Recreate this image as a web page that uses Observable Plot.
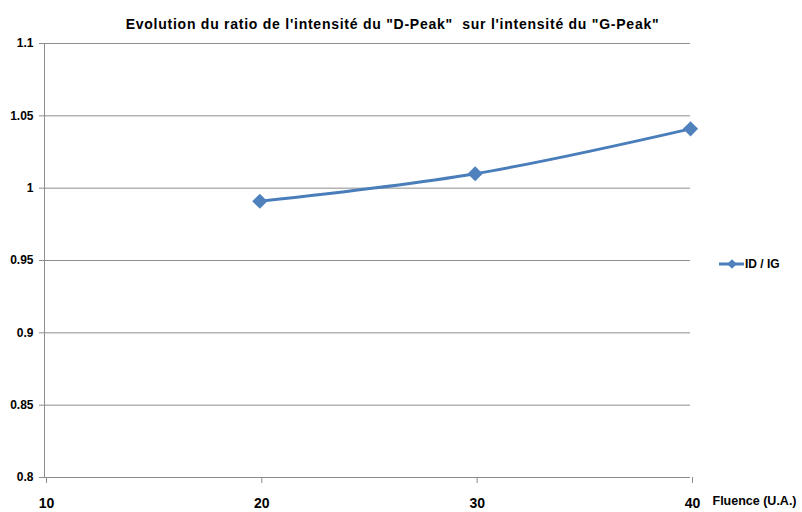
<!DOCTYPE html>
<html>
<head>
<meta charset="utf-8">
<script src="https://cdn.jsdelivr.net/npm/d3@7"></script>
<script src="https://cdn.jsdelivr.net/npm/@observablehq/plot@0.6"></script>
<style>
  html, body { margin: 0; padding: 0; background: #fff; }
  #wrap { position: relative; width: 802px; height: 512px; font-family: "Liberation Sans", Arial, sans-serif; }
  #legend { position: absolute; left: 716px; top: 254px; }
</style>
</head>
<body>
<div id="wrap"></div>
<script>
const title = "Evolution du ratio de l'intensité du \"D-Peak\"  sur l'intensité du \"G-Peak\"";
const xLabel = "Fluence (U.A.)";
const seriesName = "ID / IG";
const fluence = [20, 30, 40];
const ratio = [0.991, 1.010, 1.041];
const xTicks = [10, 20, 30, 40];
const yTicks = [0.8, 0.85, 0.9, 0.95, 1, 1.05, 1.1];

const data = fluence.map((f, i) => ({f, r: ratio[i]}));
const blue = "#4a7ebb";
const grid = "#8c8c8c";

const chart = Plot.plot({
  width: 802,
  height: 512,
  marginLeft: 44,
  marginRight: 112,
  marginTop: 43,
  marginBottom: 35,
  style: {fontFamily: "Liberation Sans, Arial, sans-serif", color: "#000", background: "#fff"},
  x: {domain: [10, 40]},
  y: {domain: [0.8, 1.1]},
  marks: [
    Plot.gridY(yTicks, {stroke: grid, strokeOpacity: 1, strokeWidth: 1}),
    Plot.ruleX([10], {stroke: grid, strokeWidth: 1}),
    Plot.axisY({ticks: yTicks, tickSize: 5, tickPadding: 6, stroke: grid,
      tickFormat: d => String(+d.toFixed(2)), fontSize: 12, fontWeight: "bold", label: null}),
    Plot.axisX({ticks: xTicks, tickSize: 6, tickPadding: 15, stroke: grid,
      tickFormat: d => String(d), fontSize: 14, fontWeight: "bold", label: null, dx: 2}),
    Plot.line(data, {x: "f", y: "r", curve: "catmull-rom", stroke: blue, strokeWidth: 3}),
    Plot.dot(data, {x: "f", y: "r", symbol: "diamond2", r: 6.8, fill: "#4f81bd", stroke: "none"}),
    Plot.text([xLabel], {frameAnchor: "bottom-right", text: d => d, textAnchor: "start",
      dx: 22, dy: 27, fontSize: 12.5, fontWeight: "bold"}),
    Plot.text([title], {frameAnchor: "top", text: d => d, dx: 25, dy: -24,
      fontSize: 14, fontWeight: "bold"})
  ]
});
document.getElementById("wrap").appendChild(chart);
chart.querySelectorAll("text").forEach(t => {
  if (t.textContent === title) t.style.letterSpacing = "0.75px";
});

// legend
const leg = d3.select("#wrap").append("svg").attr("id", "legend")
  .attr("width", 80).attr("height", 20);
leg.append("line").attr("x1", 3).attr("x2", 28).attr("y1", 10).attr("y2", 10)
  .attr("stroke", blue).attr("stroke-width", 3);
leg.append("path").attr("d", d3.symbol(d3.symbolDiamond2, 60)())
  .attr("transform", "translate(16,10)").attr("fill", "#4f81bd");
leg.append("text").attr("x", 29).attr("y", 10).attr("dy", "0.35em")
  .attr("font-size", 12).attr("font-weight", "bold")
  .attr("font-family", "Liberation Sans, Arial, sans-serif").text(seriesName);
</script>
</body>
</html>
